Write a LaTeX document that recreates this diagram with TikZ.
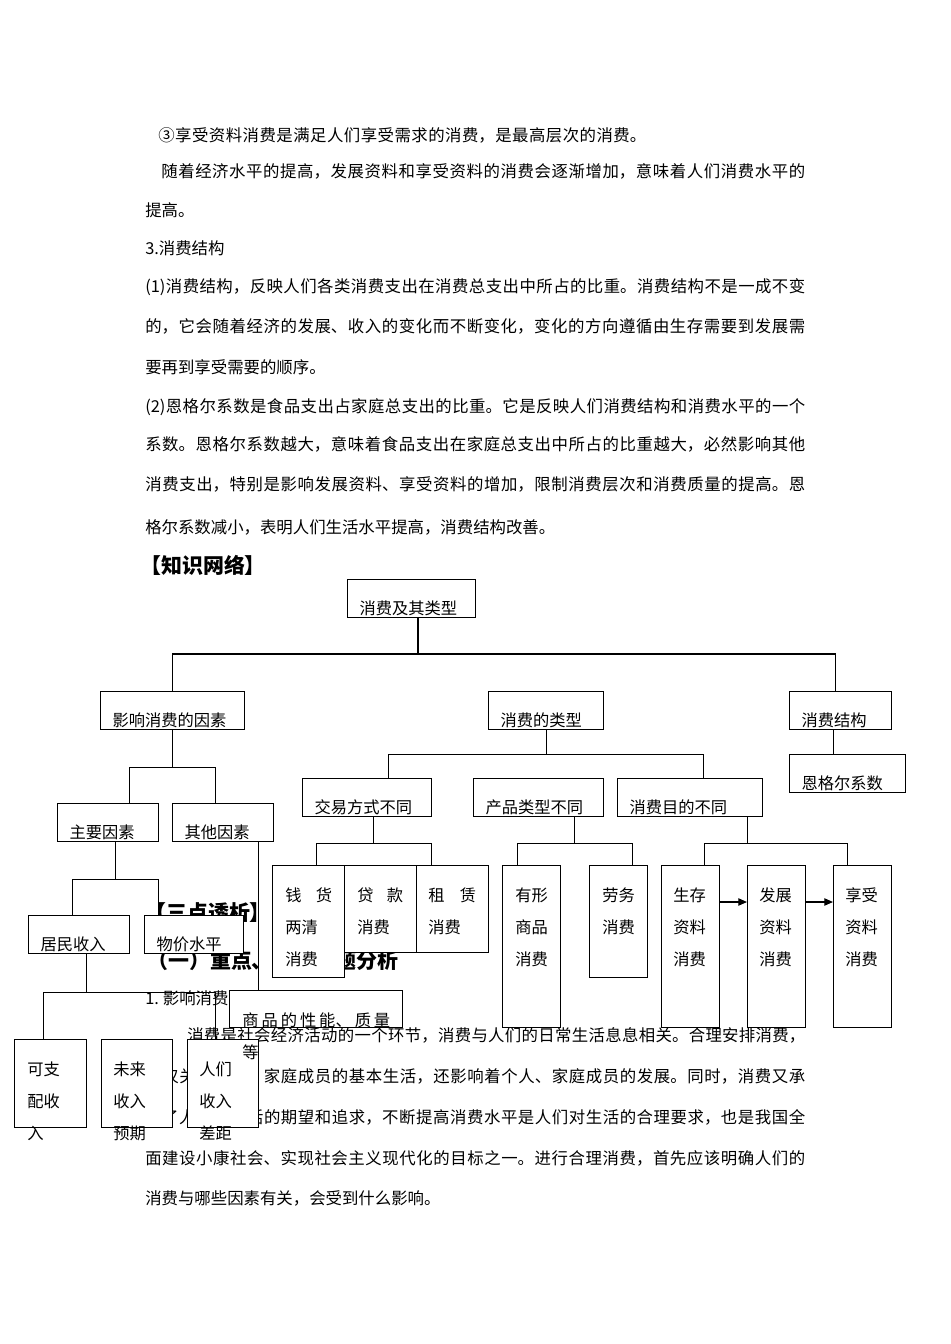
\documentclass[tikz,border=0pt]{standalone}
\usepackage{fontspec}
\setmainfont{Noto Sans CJK SC}
\usetikzlibrary{arrows.meta, calc}

\XeTeXlinebreaklocale "zh"
\XeTeXlinebreakskip=0pt plus 3pt

\newcommand\bodyfont{\fontsize{12.3}{15}\selectfont}
\newcommand\boxfont{\fontsize{12.2}{24}\selectfont}
\newcommand\headfont{\fontsize{15.7}{19}\selectfont\bfseries}
\newcommand\jline[2]{\parbox[t]{#1}{\parfillskip=0pt\relax #2}}

\begin{document}
\begin{tikzpicture}[
  x=0.75pt, y=-0.75pt,
  line/.style={line width=0.9pt},
  body/.style={anchor=base west, inner sep=0pt, font=\bodyfont},
  head/.style={anchor=base west, inner sep=0pt, font=\headfont},
  lbox/.style={draw, line width=0.9pt, fill=white, anchor=north west,
               inner xsep=9pt, inner ysep=0pt, text height=26pt,
               text depth=2.5pt, align=left, font=\boxfont},
  tbox/.style={draw, line width=0.9pt, fill=white, anchor=north west,
               inner sep=0pt},
  btext/.style={anchor=north west, inner sep=0pt, align=left, font=\boxfont},
  arrow/.style={-{Triangle[length=6.5pt, width=5.5pt]}, line width=0.9pt},
]
\useasboundingbox (0,0) rectangle (950,1344);
\fill[white] (0,0) rectangle (950,1344);

% page text
\node[body] (t1)  at (158,142)  {\jline{366pt}{③享受资料消费是满足人们享受需求的消费，是最高层次的消费。}};
\node[body] (t2)  at (161,178)  {\jline{483pt}{随着经济水平的提高，发展资料和享受资料的消费会逐渐增加，意味着人们消费水平的}};
\node[body] (t3)  at (145,217)  {提高。};
\node[body] (t4)  at (145,255)  {3.消费结构};
\node[body] (t5)  at (145,292)  {\jline{495pt}{(1)消费结构，反映人们各类消费支出在消费总支出中所占的比重。消费结构不是一成不变}};
\node[body] (t6)  at (145,332)  {\jline{495pt}{的，它会随着经济的发展、收入的变化而不断变化，变化的方向遵循由生存需要到发展需}};
\node[body] (t7)  at (145,373)  {要再到享受需要的顺序。};
\node[body] (t8)  at (145,412)  {\jline{495pt}{(2)恩格尔系数是食品支出占家庭总支出的比重。它是反映人们消费结构和消费水平的一个}};
\node[body] (t9)  at (145,450)  {\jline{495pt}{系数。恩格尔系数越大，意味着食品支出在家庭总支出中所占的比重越大，必然影响其他}};
\node[body] (t10) at (145,490)  {\jline{495pt}{消费支出，特别是影响发展资料、享受资料的增加，限制消费层次和消费质量的提高。恩}};
\node[body] (t11) at (145,533)  {格尔系数减小，表明人们生活水平提高，消费结构改善。};
\node[head] (h1)  at (140,573)  {【知识网络】};
\node[head] (h2)  at (145,920)  {【三点透析】};
\node[head] (h3)  at (147,968)  {（一）重点、难点问题分析};
\node[body] (t12) at (145,1004) {1.\kern3pt 影响消费的因素};
\node[body] (p1)  at (187,1041) {\jline{463.5pt}{消费是社会经济活动的一个环节，消费与人们的日常生活息息相关。合理安排消费，}};
\node[body] (p2)  at (145,1082) {\jline{495pt}{不仅关系个人、家庭成员的基本生活，还影响着个人、家庭成员的发展。同时，消费又承}};
\node[body] (p3)  at (145,1123) {\jline{495pt}{载了人们对生活的期望和追求，不断提高消费水平是人们对生活的合理要求，也是我国全}};
\node[body] (p4)  at (145,1164) {\jline{495pt}{面建设小康社会、实现社会主义现代化的目标之一。进行合理消费，首先应该明确人们的}};
\node[body] (p5)  at (145,1204) {消费与哪些因素有关，会受到什么影响。};

% boxes
\node[lbox, text width=78pt]    (top)   at (347,579) {消费及其类型};
\node[lbox, text width=90pt]    (inf)   at (100,691) {影响消费的因素};
\node[lbox, text width=68.25pt] (typ)   at (488,691) {消费的类型};
\node[lbox, text width=58.5pt]  (str)   at (789,691) {消费结构};
\node[lbox, text width=69pt]    (eng)   at (789,754) {恩格尔系数};
\node[lbox, text width=57.75pt] (mainf) at (57,803)  {主要因素};
\node[lbox, text width=57.75pt] (othf)  at (172,803) {其他因素};
\node[lbox, text width=78.75pt] (trade) at (302,778) {交易方式不同};
\node[lbox, text width=79.5pt]  (prod)  at (473,778) {产品类型不同};
\node[lbox, text width=90.75pt] (purp)  at (617,778) {消费目的不同};
\node[lbox, text width=57.75pt] (inc)   at (28,915)  {居民收入};
\node[lbox, text width=56.25pt] (price) at (144,915) {物价水平};

\node[tbox, minimum width=54pt,   minimum height=84pt]    (cash)  at (272,865) {};
\node[tbox, minimum width=54pt,   minimum height=65.25pt] (loan)  at (344,865) {};
\node[tbox, minimum width=54pt,   minimum height=65.25pt] (lease) at (416,865) {};
\node[tbox, minimum width=43.5pt, minimum height=121.5pt] (tang)  at (502,865) {};
\node[tbox, minimum width=43.5pt, minimum height=84pt]    (serv)  at (589,865) {};
\node[tbox, minimum width=43.5pt, minimum height=121.5pt] (surv)  at (661,865) {};
\node[tbox, minimum width=43.5pt, minimum height=121.5pt] (dev)   at (747,865) {};
\node[tbox, minimum width=43.5pt, minimum height=121.5pt] (enj)   at (833,865) {};
\node[tbox, minimum width=129.75pt, minimum height=27.75pt] (goods) at (229,990) {};
\node[tbox, minimum width=54pt,   minimum height=66pt]    (disp)  at (14,1039) {};
\node[tbox, minimum width=53.25pt, minimum height=66pt]   (fut)   at (101,1039) {};
\node[tbox, minimum width=53.25pt, minimum height=66pt]   (gap)   at (187,1039) {};

% connectors
\coordinate (b1) at (418,654);
\draw[line] (top.south -| b1) -- (b1);
\draw[line] (inf.north) |- (b1) -| ($(str.north)+(-5,0)$);
\draw[line] ($(str.south)+(-7,0)$) -- ++(0,25);
\draw[line] (inf.south) -- ++(0,37) coordinate (b2);
\draw[line] ($(mainf.north)+(21.5,0)$) |- (b2) -| ($(othf.north)+(-7.5,0)$);
\draw[line] ($(mainf.south)+(7.5,0)$) -- ++(0,37) coordinate (b3);
\draw[line] ($(inc.north)+(-6.5,0)$) |- (b3) -| ($(price.north)+(-35.5,0)$);
\draw[line] ($(inc.south)+(7.5,0)$) -- ++(0,38) coordinate (b4);
\draw[line] ($(disp.north)+(-7,0)$) |- (b4) -| ($(gap.north)+(-7.5,0)$);
\draw[line] ($(othf.south)+(35.5,0)$) coordinate (b5) -- (b5 |- goods.north);
\draw[line] (typ.south) -- ++(0,24) coordinate (b6);
\draw[line] ($(trade.north)+(21.5,0)$) |- (b6) -| ($(purp.north)+(13.5,0)$);
\draw[line] ($(trade.south)+(6.5,0)$) -- ++(0,26) coordinate (b7);
\draw[line] ($(cash.north)+(8,0)$) |- (b7) -| ($(lease.north)+(-21,0)$);
\draw[line] ($(prod.south)+(36,0)$) -- ++(0,26) coordinate (b8);
\draw[line] ($(tang.north)+(-14,0)$) |- (b8) -| ($(serv.north)+(14,0)$);
\draw[line] ($(purp.south)+(57.5,0)$) -- ++(0,26) coordinate (b9);
\draw[line] ($(surv.north)+(13.5,0)$) |- (b9) -| ($(enj.north)+(-15,0)$);
\draw[arrow] ($(surv.north east)+(0,37)$) -- ($(dev.north west)+(0,37)$);
\draw[arrow] ($(dev.north east)+(0,37)$) -- ($(enj.north west)+(0,37)$);

% box texts
\node[btext] (cashT)  at ($(cash.north west)+(13,0)$)  {\rule{0pt}{27pt}\makebox[35.25pt]{钱\hfill 货}\\两清\\消费};
\node[btext] (loanT)  at ($(loan.north west)+(13,0)$)  {\rule{0pt}{27pt}\makebox[34.5pt]{贷\hfill 款}\\消费};
\node[btext] (leaseT) at ($(lease.north west)+(12,0)$) {\rule{0pt}{27pt}\makebox[36pt]{租\hfill 赁}\\消费};
\node[btext] (tangT)  at ($(tang.north west)+(13,0)$)  {\rule{0pt}{27pt}有形\\商品\\消费};
\node[btext] (servT)  at ($(serv.north west)+(13,0)$)  {\rule{0pt}{27pt}劳务\\消费};
\node[btext] (survT)  at ($(surv.north west)+(12,0)$)  {\rule{0pt}{27pt}生存\\资料\\消费};
\node[btext] (devT)   at ($(dev.north west)+(12,0)$)   {\rule{0pt}{27pt}发展\\资料\\消费};
\node[btext] (enjT)   at ($(enj.north west)+(12,0)$)   {\rule{0pt}{27pt}享受\\资料\\消费};
\node[btext] (goodsT) at ($(goods.north west)+(13,0)$) {\rule{0pt}{27pt}\jline{111pt}{商品的性能、质量}\\等};
\node[btext] (dispT)  at ($(disp.north west)+(13,0)$)  {\rule{0pt}{27pt}可支\\配收\\入};
\node[btext] (futT)   at ($(fut.north west)+(12,0)$)   {\rule{0pt}{27pt}未来\\收入\\预期};
\node[btext] (gapT)   at ($(gap.north west)+(12,0)$)   {\rule{0pt}{27pt}人们\\收入\\差距};
\end{tikzpicture}
\end{document}
